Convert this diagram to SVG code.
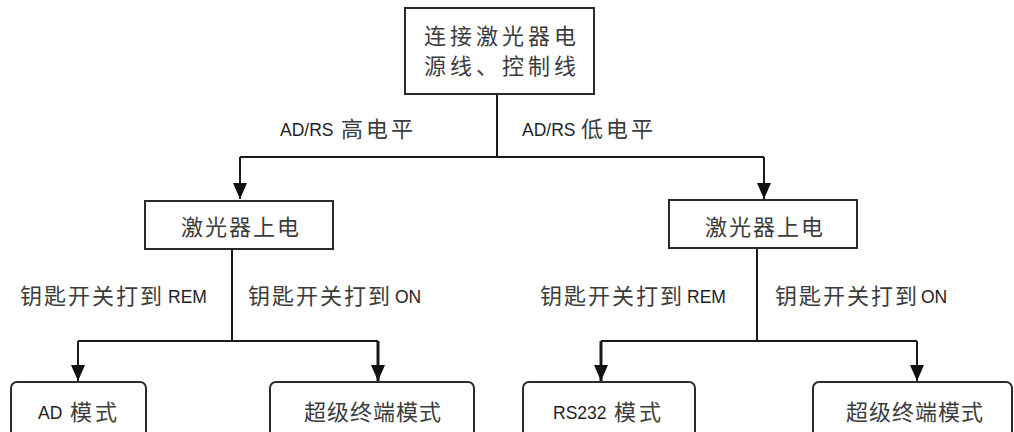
<svg xmlns="http://www.w3.org/2000/svg" width="1014" height="432" viewBox="0 0 1014 432">
<style>
.box{fill:#fff;stroke:#2b2b2b;stroke-width:2}
.ln{fill:none;stroke:#1a1a1a;stroke-width:2}
.t{font-family:"Liberation Sans","Noto Sans CJK SC",sans-serif;font-size:17.5px;fill:#1e1e1e}
.c{font-family:"Noto Sans CJK SC",sans-serif;font-size:22px;fill:#3c3c3c}
.s4{letter-spacing:4px}
.s3{letter-spacing:3px}
.s2{letter-spacing:2px}
.s1{letter-spacing:1px}
</style>
<defs>
<marker id="arr" markerUnits="userSpaceOnUse" viewBox="0 0 16 14" refX="16" refY="7" markerWidth="16" markerHeight="14" orient="auto">
<path d="M0,0 L16,7 L0,14 z" fill="#111"/>
</marker>
</defs>
<rect width="1014" height="432" fill="#fff"/>
<g id="connectors">
<path class="ln" d="M497,94 V157"/>
<path class="ln" d="M240,157 H764"/>
<path class="ln" d="M240,157 V199" marker-end="url(#arr)"/>
<path class="ln" d="M764,157 V199" marker-end="url(#arr)"/>
<path class="ln" d="M232,249 V341"/>
<path class="ln" d="M78,341 H378"/>
<path class="ln" d="M78,341 V381" marker-end="url(#arr)"/>
<path class="ln" d="M378,341 V381" marker-end="url(#arr)" style="stroke-width:3"/>
<path class="ln" d="M757,248 V341"/>
<path class="ln" d="M601,341 H917"/>
<path class="ln" d="M601,341 V381" marker-end="url(#arr)" style="stroke-width:3"/>
<path class="ln" d="M917,341 V381" marker-end="url(#arr)"/>
<g id="labels">
<text class="t" x="280" y="136">AD/RS</text><text class="c s3" x="341" y="137">高电平</text>
<text class="t" x="522" y="136">AD/RS</text><text class="c s3" x="581" y="137">低电平</text>
<text class="c s2" x="20" y="304">钥匙开关打到</text><text class="t" x="168" y="303">REM</text>
<text class="c s2" x="248" y="304">钥匙开关打到</text><text class="t" x="395" y="303">ON</text>
<text class="c s2" x="540" y="304">钥匙开关打到</text><text class="t" x="687" y="303">REM</text>
<text class="c s2" x="775" y="304">钥匙开关打到</text><text class="t" x="921" y="303">ON</text>
</g>
</g>
<g id="start">
<rect class="box" x="405" y="8" width="189" height="86"/>
<text class="c s4" x="424" y="44">连接激光器电</text>
<text class="c s4" x="424" y="74">源线、控制线</text>
</g>
<g id="power-left">
<rect class="box" x="145" y="201" width="188" height="48"/>
<text class="c s2" x="181" y="235">激光器上电</text>
</g>
<g id="power-right">
<rect class="box" x="669" y="200" width="188" height="48"/>
<text class="c s2" x="705" y="235">激光器上电</text>
</g>
<g id="ad-mode">
<rect class="box" x="11" y="382" width="135" height="60" rx="6"/>
<text class="t" x="38" y="419">AD</text><text class="c s3" x="70" y="420">模式</text>
</g>
<g id="terminal-left">
<rect class="box" x="270" y="382" width="204" height="60" rx="6"/>
<text class="c s1" x="304" y="420">超级终端模式</text>
</g>
<g id="rs232-mode">
<rect class="box" x="523" y="382" width="172" height="60" rx="6"/>
<text class="t" x="553" y="419">RS232</text><text class="c s3" x="614" y="420">模式</text>
</g>
<g id="terminal-right">
<rect class="box" x="813" y="382" width="199" height="60" rx="6"/>
<text class="c s1" x="846" y="420">超级终端模式</text>
</g>
</svg>
